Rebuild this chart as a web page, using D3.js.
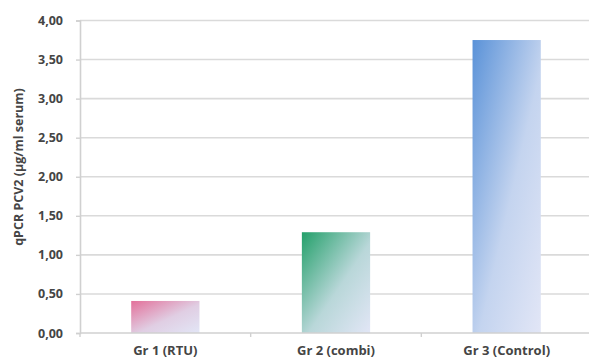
<!DOCTYPE html>
<html>
<head>
<meta charset="utf-8">
<script src="https://cdn.jsdelivr.net/npm/d3@7"></script>
<style>
  html, body { margin: 0; padding: 0; background: #ffffff; }
  svg { display: block; }
  text { font-family: "Open Sans", Lato, sans-serif; font-weight: bold; fill: #454545; }
</style>
</head>
<body>
<svg id="chart" width="589" height="362"></svg>
<script>
// Chart data
const categories = ["Gr 1 (RTU)", "Gr 2 (combi)", "Gr 3 (Control)"];
const values = [0.41, 1.29, 3.75];
const barStartColors = ["#e3709a", "#23a06a", "#5a92d8"];
const yTicks = [0, 0.5, 1, 1.5, 2, 2.5, 3, 3.5, 4];
const yTitle = "qPCR PCV2 (µg/ml serum)";

const svg = d3.select("#chart");
const plotLeft = 80, plotRight = 592, plotTop = 20.5, plotBottom = 333;

const x = d3.scaleBand().domain(categories).range([plotLeft, plotRight]).paddingInner(0.6).paddingOuter(0.3);
const y = d3.scaleLinear().domain([0, 4]).range([plotBottom, plotTop]);

const fmt = v => d3.format(".2f")(v).replace(".", ",");

// Gradients: saturated at top-left, fading to pale lavender at bottom-right
const defs = svg.append("defs");
barStartColors.forEach((c, i) => {
  const g = defs.append("linearGradient")
    .attr("id", "grad" + i)
    .attr("x1", 0).attr("y1", 0).attr("x2", 1).attr("y2", 1);
  g.append("stop").attr("offset", "0%").attr("stop-color", c);
  g.append("stop").attr("offset", "55%").attr("stop-color", d3.interpolateRgb(c, "#dfe5f5")(0.8));
  g.append("stop").attr("offset", "100%").attr("stop-color", "#e2e6f6");
});

// Horizontal gridlines
svg.append("g")
  .selectAll("line")
  .data(yTicks.slice(1))
  .join("line")
  .attr("x1", plotLeft).attr("x2", plotRight)
  .attr("y1", d => y(d)).attr("y2", d => y(d))
  .attr("stroke", "#dadada").attr("stroke-width", 1.6);

// Y axis labels
const yAxis = d3.axisLeft(y).tickValues(yTicks).tickFormat(fmt).tickSize(4).tickPadding(13);
const yg = svg.append("g").attr("transform", `translate(${plotLeft},0)`).call(yAxis);
yg.select(".domain").attr("stroke", "#d0d0d0").attr("stroke-width", 1.6);
yg.selectAll(".tick line").attr("stroke", "#d0d0d0").attr("stroke-width", 1.4);
yg.selectAll(".tick text").attr("font-size", 12.5).attr("fill", "#454545")
  .attr("font-family", "'Open Sans', sans-serif").attr("font-weight", "bold");

// Bars
svg.append("g")
  .selectAll("rect")
  .data(categories)
  .join("rect")
  .attr("x", d => x(d))
  .attr("width", x.bandwidth())
  .attr("y", (d, i) => y(values[i]))
  .attr("height", (d, i) => y(0) - y(values[i]))
  .attr("fill", (d, i) => `url(#grad${i})`);

// X axis
const xb = d3.scaleBand().domain(categories).range([plotLeft, plotRight]);
const xg = svg.append("g").attr("transform", `translate(0,${plotBottom})`);
xg.append("line").attr("x1", plotLeft).attr("x2", plotRight).attr("y1", 0).attr("y2", 0)
  .attr("stroke", "#d0d0d0").attr("stroke-width", 1.6);
xg.selectAll(".sep")
  .data(categories)
  .join("line")
  .attr("class", "sep")
  .attr("x1", d => xb(d)).attr("x2", d => xb(d))
  .attr("y1", 0).attr("y2", 4)
  .attr("stroke", "#d0d0d0").attr("stroke-width", 1.4);
xg.selectAll(".lbl")
  .data(categories)
  .join("text")
  .attr("class", "lbl")
  .attr("x", d => x(d) + x.bandwidth() / 2)
  .attr("y", 22)
  .attr("text-anchor", "middle")
  .attr("font-size", 13)
  .text(d => d);

// Y axis title
svg.append("text")
  .attr("transform", `translate(23,167) rotate(-90)`)
  .attr("text-anchor", "middle")
  .attr("font-size", 12.5)
  .text(yTitle);
</script>
</body>
</html>
